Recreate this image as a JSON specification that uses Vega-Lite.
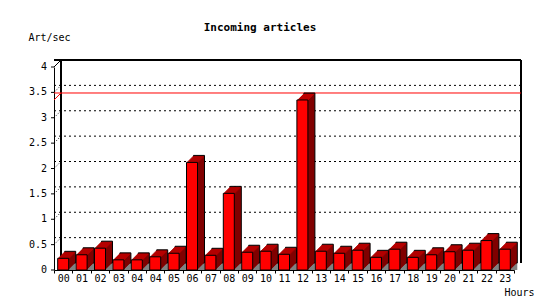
{
  "$schema": "https://vega.github.io/schema/vega-lite/v6.json",
  "width": 460,
  "height": 203,
  "autosize": "none",
  "padding": {"left": 54, "top": 67, "right": 36, "bottom": 30},
  "background": "white",
  "title": {"text": "Incoming articles", "font": "DejaVu Sans Mono", "fontWeight": "bold", "fontSize": 11, "anchor": "middle", "dx": -24, "offset": -1, "color": "black"},
  "config": {
    "view": {"stroke": null},
    "axis": {"labelFont": "DejaVu Sans Mono", "labelFontSize": 10, "labelColor": "black", "titleFont": "DejaVu Sans Mono", "titleFontSize": 10, "titleFontWeight": "normal", "titleColor": "black", "domainColor": "black", "tickColor": "black", "tickSize": 3, "grid": false}
  },
  "datasets": {
    "bars": [
      {"k": "00", "v": 0.23}, {"k": "01", "v": 0.30}, {"k": "02", "v": 0.43}, {"k": "03", "v": 0.20},
      {"k": "04", "v": 0.20}, {"k": "04*", "v": 0.26}, {"k": "05", "v": 0.33}, {"k": "06", "v": 2.12},
      {"k": "07", "v": 0.29}, {"k": "08", "v": 1.51}, {"k": "09", "v": 0.35}, {"k": "10", "v": 0.37},
      {"k": "11", "v": 0.31}, {"k": "12", "v": 3.35}, {"k": "13", "v": 0.37}, {"k": "14", "v": 0.33},
      {"k": "15", "v": 0.39}, {"k": "16", "v": 0.25}, {"k": "17", "v": 0.41}, {"k": "18", "v": 0.25},
      {"k": "19", "v": 0.30}, {"k": "20", "v": 0.36}, {"k": "21", "v": 0.39}, {"k": "22", "v": 0.58},
      {"k": "23", "v": 0.41}
    ],
    "grid": [{"g": 0.5}, {"g": 1}, {"g": 1.5}, {"g": 2}, {"g": 2.5}, {"g": 3}, {"g": 3.5}],
    "ticks": [{"t": 0}, {"t": 0.5}, {"t": 1}, {"t": 1.5}, {"t": 2}, {"t": 2.5}, {"t": 3}, {"t": 3.5}, {"t": 4}]
  },
  "data": {"name": "bars"},
  "layer": [
    {"data": {"name": "grid"}, "mark": {"type": "rule", "color": "black", "strokeDash": [2, 3], "xOffset": 7, "yOffset": -7},
     "encoding": {"y": {"field": "g", "type": "quantitative"}}},
    {"data": {"name": "grid"}, "mark": {"type": "rule", "color": "black", "strokeDash": [1, 2], "x2Offset": 7, "y2Offset": -7},
     "encoding": {"x": {"value": 0}, "x2": {"value": 0}, "y": {"field": "g", "type": "quantitative"}, "y2": {"field": "g"}}},
    {"mark": {"type": "rule", "color": "black", "xOffset": 7, "yOffset": -7},
     "encoding": {"y": {"datum": 4, "type": "quantitative"}}},
    {"mark": {"type": "rule", "color": "black", "x2Offset": 7, "y2Offset": -7},
     "encoding": {"x": {"value": 0}, "x2": {"value": 0}, "y": {"datum": 4, "type": "quantitative"}, "y2": {"datum": 4}}},
    {"mark": {"type": "rule", "color": "black", "xOffset": 7, "yOffset": -7, "y2Offset": -7},
     "encoding": {"x": {"value": "width"}, "y": {"datum": 0, "type": "quantitative"}, "y2": {"datum": 4}}},
    {"mark": {"type": "rule", "color": "black", "xOffset": 7, "yOffset": -7, "y2Offset": -7},
     "encoding": {"x": {"value": 0}, "y": {"datum": 0, "type": "quantitative"}, "y2": {"datum": 4}}},
    {"mark": {"type": "rule", "color": "#ff0000", "xOffset": 7, "yOffset": -7},
     "encoding": {"y": {"aggregate": "max", "field": "v", "type": "quantitative"}}},
    {"mark": {"type": "rule", "color": "#ff0000", "x2Offset": 7, "y2Offset": -7},
     "encoding": {"x": {"value": 0}, "x2": {"value": 0}, "y": {"aggregate": "max", "field": "v", "type": "quantitative"}, "y2": {"aggregate": "max", "field": "v"}}},
    {"mark": {"type": "bar", "width": 11, "fill": "#808080", "xOffset": 7, "yOffset": -7},
     "encoding": {"x": {"field": "k", "type": "nominal", "sort": null}, "y": {"datum": 0, "type": "quantitative"}, "y2": {"datum": 0}}},
    {"mark": {"type": "bar", "width": 11, "fill": "#800000", "stroke": "black", "strokeWidth": 1, "xOffset": 7, "yOffset": -7, "y2Offset": -7},
     "encoding": {"x": {"field": "k", "type": "nominal", "sort": null}, "y": {"field": "v", "type": "quantitative"}, "y2": {"datum": 0}}},
    {"mark": {"type": "bar", "width": 11, "fill": "#800000", "xOffset": 6, "yOffset": -6, "y2Offset": -6},
     "encoding": {"x": {"field": "k", "type": "nominal", "sort": null}, "y": {"field": "v", "type": "quantitative"}, "y2": {"datum": 0}}},
    {"mark": {"type": "bar", "width": 11, "fill": "#800000", "xOffset": 5, "yOffset": -5, "y2Offset": -5},
     "encoding": {"x": {"field": "k", "type": "nominal", "sort": null}, "y": {"field": "v", "type": "quantitative"}, "y2": {"datum": 0}}},
    {"mark": {"type": "bar", "width": 11, "fill": "#800000", "xOffset": 4, "yOffset": -4, "y2Offset": -4},
     "encoding": {"x": {"field": "k", "type": "nominal", "sort": null}, "y": {"field": "v", "type": "quantitative"}, "y2": {"datum": 0}}},
    {"mark": {"type": "bar", "width": 11, "fill": "#800000", "xOffset": 3, "yOffset": -3, "y2Offset": -3},
     "encoding": {"x": {"field": "k", "type": "nominal", "sort": null}, "y": {"field": "v", "type": "quantitative"}, "y2": {"datum": 0}}},
    {"mark": {"type": "bar", "width": 11, "fill": "#800000", "xOffset": 2, "yOffset": -2, "y2Offset": -2},
     "encoding": {"x": {"field": "k", "type": "nominal", "sort": null}, "y": {"field": "v", "type": "quantitative"}, "y2": {"datum": 0}}},
    {"mark": {"type": "bar", "width": 11, "fill": "#800000", "xOffset": 1, "yOffset": -1, "y2Offset": -1},
     "encoding": {"x": {"field": "k", "type": "nominal", "sort": null}, "y": {"field": "v", "type": "quantitative"}, "y2": {"datum": 0}}},
    {"mark": {"type": "bar", "width": 11, "fill": "#c00000", "xOffset": 1, "yOffset": -1, "y2Offset": 0},
     "encoding": {"x": {"field": "k", "type": "nominal", "sort": null}, "y": {"field": "v", "type": "quantitative"}, "y2": {"field": "v"}}},
    {"mark": {"type": "bar", "width": 11, "fill": "#c00000", "xOffset": 2, "yOffset": -2, "y2Offset": -1},
     "encoding": {"x": {"field": "k", "type": "nominal", "sort": null}, "y": {"field": "v", "type": "quantitative"}, "y2": {"field": "v"}}},
    {"mark": {"type": "bar", "width": 11, "fill": "#c00000", "xOffset": 3, "yOffset": -3, "y2Offset": -2},
     "encoding": {"x": {"field": "k", "type": "nominal", "sort": null}, "y": {"field": "v", "type": "quantitative"}, "y2": {"field": "v"}}},
    {"mark": {"type": "bar", "width": 11, "fill": "#c00000", "xOffset": 4, "yOffset": -4, "y2Offset": -3},
     "encoding": {"x": {"field": "k", "type": "nominal", "sort": null}, "y": {"field": "v", "type": "quantitative"}, "y2": {"field": "v"}}},
    {"mark": {"type": "bar", "width": 11, "fill": "#c00000", "xOffset": 5, "yOffset": -5, "y2Offset": -4},
     "encoding": {"x": {"field": "k", "type": "nominal", "sort": null}, "y": {"field": "v", "type": "quantitative"}, "y2": {"field": "v"}}},
    {"mark": {"type": "bar", "width": 11, "fill": "#c00000", "xOffset": 6, "yOffset": -6, "y2Offset": -5},
     "encoding": {"x": {"field": "k", "type": "nominal", "sort": null}, "y": {"field": "v", "type": "quantitative"}, "y2": {"field": "v"}}},
    {"data": {"name": "ticks"}, "mark": {"type": "text", "font": "DejaVu Sans Mono", "fontSize": 10, "color": "black", "align": "right", "baseline": "middle", "dx": -7},
     "encoding": {"x": {"value": 0}, "y": {"field": "t", "type": "quantitative"}, "text": {"field": "t", "type": "quantitative", "format": "~g"}}},
    {"data": {"name": "ticks"}, "mark": {"type": "rule", "color": "black", "x2Offset": -3},
     "encoding": {"x": {"value": 0}, "x2": {"value": 0}, "y": {"field": "t", "type": "quantitative"}, "y2": {"field": "t"}}},
    {"mark": {"type": "bar", "width": 11, "fill": "#ff0000", "stroke": "black", "strokeWidth": 1},
     "encoding": {
       "x": {"field": "k", "type": "nominal", "sort": null,
             "scale": {"type": "band", "paddingInner": 0, "paddingOuter": 0},
             "axis": {"title": "Hours", "labelAngle": 0, "labelAlign": "center", "tickBand": "extent", "labelPadding": 5, "labelExpr": "replace(datum.label, '*', '')", "titleAlign": "left", "titleBaseline": "middle", "titleX": 450, "titleY": 22}},
       "y": {"field": "v", "type": "quantitative",
             "scale": {"domain": [0, 4], "nice": false},
             "axis": {"title": "Art/sec", "labels": false, "ticks": false, "titleAngle": 0, "titleAlign": "left", "titleBaseline": "middle", "titleX": -26, "titleY": -30}},
       "y2": {"datum": 0}
     }}
  ]
}
